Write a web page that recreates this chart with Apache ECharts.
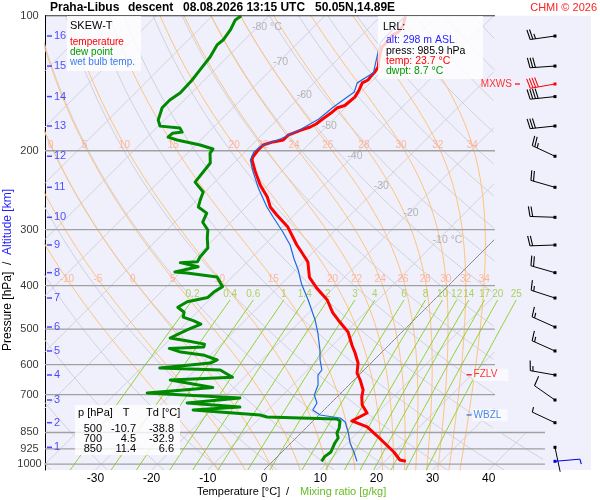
<!DOCTYPE html>
<html>
<head>
<meta charset="utf-8">
<script src="https://cdn.jsdelivr.net/npm/echarts@6.0.0/dist/echarts.min.js"></script>
<style>
html, body { margin: 0; padding: 0; background: #fff; }
#chart { width: 600px; height: 500px; }
</style>
</head>
<body>
<div id="chart"></div>
<script>
// sounding: pressure [hPa] and temperature [°C]
var tempP = [100, 104.9, 107.6, 109.2, 110.4, 114.4, 117.4, 123.6, 130.1, 133.5, 135.5, 139.1, 141.2, 146.4, 151.9, 158.6, 160.4, 164.9, 169.5, 174.4, 177.1, 180.0, 184.6, 189.3, 191.2, 194.2, 199.3, 206.6, 209.8, 222.0, 238.5, 253.7, 267.0, 278.3, 295.5, 324.6, 333.1, 354.3, 383.3, 404.9, 430.5, 459.2, 477.1, 507.5, 542.5, 565.4, 595.1, 626.5, 649.3, 683.5, 708.5, 738.1, 769.2, 801.3, 826.3, 866.9, 939.7, 979.1, 985.9];
var tempT = [-55.7, -54.4, -54.1, -54.1, -54.6, -54.3, -54.3, -53.0, -51.4, -51.1, -51.1, -50.9, -51.4, -50.7, -50.2, -50.5, -51.4, -51.6, -52.0, -52.3, -52.8, -53.9, -55.3, -55.3, -56.8, -58.0, -58.0, -57.7, -57.3, -54.8, -51.4, -48.0, -45.7, -43.1, -39.1, -34.2, -32.7, -29.2, -26.2, -23.0, -19.0, -15.8, -13.5, -9.6, -6.6, -4.6, -2.3, -0.7, 1.1, 3.4, 4.4, 5.9, 8.2, 6.9, 10.7, 14.2, 19.9, 22.4, 23.7];

var dewP = [100, 102.2, 107.6, 113.3, 116.2, 123.6, 132.2, 139.1, 148.6, 154.2, 160.4, 170.9, 176.3, 178.1, 181.8, 182.8, 186.6, 189.3, 194.2, 198.3, 202.5, 213.0, 235.0, 247.2, 257.6, 267.0, 275.6, 288.8, 300.6, 313.0, 329.7, 345.3, 353.6, 355.4, 362.9, 372.9, 374.7, 382.5, 394.2, 402.0, 413.3, 424.9, 434.5, 447.0, 458.4, 470.0, 479.5, 487.2, 502.2, 523.3, 531.5, 540.0, 548.1, 552.0, 562.6, 572.0, 585.9, 595.1, 610.5, 616.8, 640.4, 649.3, 674.9, 683.5, 694.0, 712.3, 730.6, 746.0, 757.4, 777.2, 785.3, 789.2, 793.1, 801.3, 809.0, 830.8, 852.6, 874.4, 897.2, 939.7, 962.2, 985.9];
var dewT = [-84.9, -85.2, -84.3, -83.8, -84.0, -83.1, -82.6, -82.2, -82.0, -82.6, -82.6, -81.1, -79.7, -75.8, -74.7, -76.2, -76.3, -74.2, -69.2, -66.2, -66.0, -64.2, -63.5, -60.3, -59.4, -58.5, -55.9, -55.0, -52.7, -51.4, -49.5, -49.3, -48.9, -51.8, -47.9, -51.1, -48.8, -42.7, -41.1, -40.0, -40.6, -40.7, -43.6, -44.3, -42.3, -41.6, -39.0, -37.2, -38.6, -40.2, -36.5, -33.0, -32.6, -38.5, -35.8, -31.0, -27.9, -28.6, -36.7, -25.6, -22.1, -32.7, -23.8, -28.6, -34.5, -17.1, -25.6, -15.5, -23.3, -10.5, -8.9, -2.8, 3.9, 4.8, 4.8, 5.9, 6.4, 7.5, 7.8, 8.7, 8.4, 8.7];

var wetP = [100, 115.0, 125.5, 134.1, 141.2, 148.0, 160.4, 170.0, 179.1, 187.9, 195.2, 201.4, 209.8, 222.0, 242.2, 267.0, 281.2, 303.7, 324.6, 348.8, 369.1, 395.9, 430.5, 477.1, 510.0, 556.6, 585.9, 616.8, 633.0, 666.3, 701.3, 730.6, 757.4, 777.2, 789.2, 805.5, 847.9, 897.2, 939.7, 985.9];
var wetT = [-55.7, -55.3, -53.0, -51.2, -52.3, -51.2, -52.3, -52.7, -54.1, -55.9, -58.2, -58.4, -57.6, -55.2, -51.2, -46.3, -43.4, -39.0, -35.4, -32.2, -29.5, -26.5, -22.4, -17.6, -14.8, -11.4, -9.6, -7.5, -7.3, -5.5, -4.4, -2.5, -2.0, 0.2, 4.3, 5.9, 8.2, 10.5, 12.8, 15.0];

// diagram families
var isobars = [100, 200, 300, 400, 500, 600, 700, 850, 925, 1000];
var isotherms = [-120, -110, -100, -90, -80, -70, -60, -50, -40, -30, -20, -10, 0, 10, 20, 30, 40, 50];
var isothermLabels = [-80, -70, -60, -50, -40, -30, -20, -10];
var isothermLabelP = [106, 127, 150, 176, 206, 240, 275, 316];
var dryAdiabats = [-40, -30, -20, -10, 0, 10, 20, 30, 40, 50, 60, 70, 80, 90, 100, 110, 120, 130, 140, 150, 160, 170, 180];
var moistAdiabats = [-10, -5, 0, 5, 10, 15, 20, 22, 24, 26, 28, 30, 32, 34];
var moistLabelP = [194.2, 386.5];
var mixingRatios = [0.2, 0.4, 0.6, 1, 1.4, 2, 3, 4, 6, 8, 10, 12, 14, 17, 20, 25];

// altitude marks
var altKm = [16, 15, 14, 13, 12, 11, 10, 9, 8, 7, 6, 5, 4, 3, 2, 1];
var altP = [111.0, 129.5, 151.5, 176.2, 205.8, 241.4, 281.6, 324.6, 374.2, 426.2, 494.7, 559.4, 632.9, 719.6, 808.5, 917.4];

// wind barbs
var windP = [111.0, 129.5, 142.0, 151.5, 176.2, 205.8, 241.4, 281.6, 324.6, 374.2, 426.2, 494.7, 559.4, 632.9, 719.6, 808.5, 917.4, 985.9];
var windDir = [262, 266, 260, 264, 264, 295, 286, 272, 268, 286, 288, 294, 294, 280, 305, 295, 168, 85];
var windKt = [25, 30, 40, 40, 30, 25, 20, 20, 20, 20, 15, 15, 15, 15, 10, 5, 2, 5];
var windColor = ['#000', '#000', '#f00', '#000', '#000', '#000', '#000', '#000', '#000', '#000', '#000', '#000', '#000', '#000', '#000', '#000', '#000', '#0000ee'];

var levelNames = ['MXWS', 'FZLV', 'WBZL'];
var levelP = [142.0, 632, 777];

var tableP = [500, 700, 850];
var tableT = [-10.7, 4.5, 11.4];
var tableTd = [-38.8, -32.9, 6.6];

// skew-T geometry
var P_BOTTOM = 1030.8;
var SKEW = 79.8;            // degrees per decade of pressure
var X_MIN = -38.97, X_MAX = 58.19;
var X_EDGE = 41.1, X_EDGE_LOW = 50.0;
var FONT = '"Liberation Sans", Arial, sans-serif';

function sx(t, p) { return t + SKEW * Math.log10(P_BOTTOM / p); }
function edgeAt(p) { return p >= 849 ? X_EDGE_LOW : X_EDGE; }
function pt(t, p) { return [sx(t, p), p]; }

var levels = [];
for (var i = 0; i <= 300; i++) levels.push(P_BOTTOM * Math.pow(100 / P_BOTTOM, i / 300));

function satVap(tc) { return 6.112 * Math.exp(17.67 * tc / (tc + 243.5)); }
function lapse(tk, p) {
  var es = satVap(tk - 273.15);
  var rs = 0.622 * es / (p - es);
  return (287 * tk + 2.5e6 * rs) / (1005 + 2.5e6 * 2.5e6 * rs * 0.622 / (287 * tk * tk));
}
function pseudoAdiabat(tw) {
  var h = 0.004, up = [], down = [], tk, lp, k1, k2;
  tk = tw + 273.15; lp = Math.log(1000);
  while (lp >= Math.log(99)) {
    up.push([tk - 273.15, Math.exp(lp)]);
    k1 = lapse(tk, Math.exp(lp));
    k2 = lapse(tk - h * k1, Math.exp(lp - h));
    tk -= h * (k1 + k2) / 2; lp -= h;
  }
  tk = tw + 273.15; lp = Math.log(1000);
  while (lp <= Math.log(1040)) {
    k1 = lapse(tk, Math.exp(lp));
    k2 = lapse(tk + h * k1, Math.exp(lp + h));
    tk += h * (k1 + k2) / 2; lp += h;
    down.unshift([tk - 273.15, Math.exp(lp)]);
  }
  return down.concat(up);
}
function tAtP(curve, p) {
  for (var i = 0; i < curve.length - 1; i++) {
    var a = curve[i], b = curve[i + 1];
    if (a[1] >= p && b[1] <= p) {
      var f = Math.log(a[1] / p) / Math.log(a[1] / b[1]);
      return a[0] + f * (b[0] - a[0]);
    }
  }
  return null;
}
function dewFromMix(w, p) {
  var a = Math.log(w * p / (622 + w) / 6.112);
  return 243.5 * a / (17.67 - a);
}

// keep only the parts of a curve that are inside the diagram
function clipParts(points) {
  var parts = [], cur = [];
  points.forEach(function (q) {
    if (q[0] <= edgeAt(q[1])) cur.push(q);
    else { if (cur.length > 1) parts.push(cur); cur = []; }
  });
  if (cur.length > 1) parts.push(cur);
  return parts;
}

var series = [];
function addLine(points, color, width, z, noClip) {
  var parts = noClip ? [points] : clipParts(points);
  parts.forEach(function (d) {
    series.push({ type: 'line', data: d, symbol: 'none', silent: true, z: z,
      lineStyle: { color: color, width: width } });
  });
}
function addLabels(items, color, size, extraLabel, z) {
  series.push({
    type: 'scatter', silent: true, symbolSize: 1, z: z || 4,
    itemStyle: { color: 'rgba(0,0,0,0)' },
    data: items.map(function (it) { return { value: it[0], name: it[1] }; }),
    label: Object.assign({ show: true, position: 'inside', formatter: '{b}', color: color,
      fontSize: size, fontFamily: FONT }, extraLabel || {})
  });
}

// isotherms
isotherms.forEach(function (t) {
  addLine(levels.map(function (p) { return pt(t, p); }), t === 0 ? '#8a8a8a' : '#d0d0d8', 1, t === 0 ? 2 : 1);
});
// dry adiabats
dryAdiabats.forEach(function (th) {
  var tk = th + 273.15;
  addLine(levels.map(function (p) { return pt(tk * Math.pow(p / 1000, 0.2857) - 273.15, p); }), '#d0d0d8', 1, 1);
});
// moist adiabats
var moistLab = [];
moistAdiabats.forEach(function (tw) {
  var curve = pseudoAdiabat(tw);
  addLine(curve.map(function (c) { return pt(c[0], c[1]); }), '#ffc178', 1, 1);
  moistLabelP.forEach(function (lp) {
    var t = tAtP(curve, lp);
    if (t === null) return;
    var x = sx(t, lp);
    if (x > X_MIN + 0.8 && x < X_EDGE) moistLab.push([[x, lp], String(tw)]);
  });
});
addLabels(moistLab, '#ffa888', 10);

// mixing ratio lines
var MIX_TOP = 430.5, MIX_LABEL = 417.5;
var mixLab = [];
mixingRatios.forEach(function (w) {
  var pts = [];
  for (var i = 0; i <= 60; i++) {
    var p = P_BOTTOM * Math.pow(MIX_TOP / P_BOTTOM, i / 60);
    pts.push(pt(dewFromMix(w, p), p));
  }
  addLine(pts, '#8fd12a', 1, 1, true);
  mixLab.push([[sx(dewFromMix(w, MIX_TOP), MIX_TOP), MIX_LABEL], String(w)]);
});
addLabels(mixLab, '#99cc33', 10);

// isotherm labels
addLabels(isothermLabels.map(function (t, i) {
  var p = isothermLabelP[i];
  return [pt(t, p), (t === -80 || t === -10) ? t + ' °C' : String(t)];
}), '#a4a4a4', 10.5, { position: 'right', distance: 0, offset: [-6, 0] });

// isobars
isobars.forEach(function (p) {
  series.push({ type: 'line', symbol: 'none', silent: true, z: 3,
    data: [[X_MIN, p], [edgeAt(p), p]],
    lineStyle: { color: p === 100 ? '#000' : '#a0a0a0', width: p === 100 ? 1 : 1.4 } });
});
addLabels(isobars.map(function (p) { return [[X_MIN, p], String(p)]; }), '#000', 11,
  { position: 'left', distance: 15, align: 'center' });

// altitude marks
series.push({
  type: 'scatter', silent: true, z: 6, symbol: 'rect', symbolSize: [5, 1.5],
  itemStyle: { color: '#1f1fff' },
  data: altP.map(function (p, i) { return { value: [-38.17, p], name: String(altKm[i]) }; }),
  label: { show: true, position: 'right', distance: 2, formatter: '{b}', color: '#1f1fff', fontSize: 11, fontFamily: FONT }
});

// sounding
series.push({ type: 'line', symbol: 'none', silent: true, z: 8,
  data: tempP.map(function (p, i) { return pt(tempT[i], p); }),
  lineStyle: { color: '#ff0000', width: 3, join: 'round' } });
series.push({ type: 'line', symbol: 'none', silent: true, z: 9,
  data: wetP.map(function (p, i) { return pt(wetT[i], p); }),
  lineStyle: { color: '#1e6ae0', width: 1.2 } });
series.push({ type: 'line', symbol: 'none', silent: true, z: 8,
  data: dewP.map(function (p, i) { return pt(dewT[i], p); }),
  lineStyle: { color: '#008a00', width: 3, join: 'round' } });

// MXWS / FZLV / WBZL
series.push({
  type: 'scatter', silent: true, z: 7, symbol: 'rect', symbolSize: [5, 1.5],
  data: [
    { value: [45.1, levelP[0]], name: levelNames[0], itemStyle: { color: '#f00' },
      label: { position: 'left', distance: 3, color: '#f00' } },
    { value: [36.5, levelP[1]], name: levelNames[1], itemStyle: { color: '#f00' },
      label: { position: 'right', distance: 1, color: '#f00', backgroundColor: 'rgba(255,255,255,0.85)', padding: [1, 11, 1, 1] } },
    { value: [36.5, levelP[2]], name: levelNames[2], itemStyle: { color: '#1e6ae0' },
      label: { position: 'right', distance: 1, color: '#1e6ae0', backgroundColor: 'rgba(255,255,255,0.85)', padding: [1, 6, 1, 1] } }
  ],
  label: { show: true, formatter: '{b}', fontSize: 10, fontFamily: FONT }
});

// wind barbs
var STATION_X = 51.78;
series.push({
  type: 'custom', silent: true, z: 7,
  data: windP.map(function (p, i) { return [STATION_X, p, windDir[i], windKt[i]]; }),
  renderItem: function (params, api) {
    var s = api.coord([api.value(0), api.value(1)]);
    var a = api.value(2) * Math.PI / 180, kt = api.value(3);
    var col = windColor[params.dataIndex];
    var ux = Math.sin(a), uy = -Math.cos(a), fx = -uy, fy = ux;
    var ex = s[0] + 25 * ux, ey = s[1] + 25 * uy;
    var kids = [
      { type: 'line', shape: { x1: s[0], y1: s[1], x2: ex, y2: ey }, style: { stroke: col, lineWidth: 1 } },
      { type: 'rect', shape: { x: s[0] - 1.5, y: s[1] - 1.5, width: 3, height: 3 }, style: { fill: col } }
    ];
    var full = Math.floor(kt / 10), half = kt % 10 >= 5 ? 1 : 0;
    for (var k = 0; k < full + half; k++) {
      var len = k < full ? 10 : 5;
      var bx = ex - k * 2.7 * ux, by = ey - k * 2.7 * uy;
      kids.push({ type: 'line', shape: { x1: bx, y1: by, x2: bx + len * fx + 0.2 * len * ux, y2: by + len * fy + 0.2 * len * uy },
        style: { stroke: col, lineWidth: 1.1 } });
    }
    return { type: 'group', children: kids };
  }
});

// boxes and titles
function txt(x, y, s, size, color, extra) {
  return { type: 'text', x: x, y: y, z: 101, silent: true,
    style: Object.assign({ text: s, font: size + 'px ' + FONT, fill: color,
      textAlign: 'left', textVerticalAlign: 'middle', align: 'left', verticalAlign: 'middle' }, extra || {}) };
}
function box(x, y, w, h) {
  return { type: 'rect', z: 100, silent: true, shape: { x: x, y: y, width: w, height: h },
    style: { fill: 'rgba(255,255,255,0.8)' } };
}
var graphics = [
  txt(50, 8, 'Praha-Libus', 'bold 12', '#000'),
  txt(128, 8, 'descent', 'bold 12', '#000'),
  txt(183, 8, '08.08.2026 13:15 UTC', 'bold 12', '#000'),
  txt(315, 8, '50.05N,14.89E', 'bold 12', '#000'),
  txt(597, 8, 'CHMI © 2026', 11, '#ff2020', { textAlign: 'right', align: 'right' }),
  txt(197, 492, 'Temperature [°C]', 11, '#000'),
  txt(286, 492, '/', 11, '#000'),
  txt(300, 492, 'Mixing ratio [g/kg]', 11, '#66bb22'),
  { type: 'text', x: 8, y: 270, rotation: Math.PI / 2, z: 101, silent: true,
    style: { text: '{a|Pressure [hPa]}  /  {b|Altitude [km]}', font: '12px ' + FONT, fill: '#000',
      textAlign: 'center', textVerticalAlign: 'middle', align: 'center', verticalAlign: 'middle',
      rich: { a: { fill: '#000', font: '12px ' + FONT }, b: { fill: '#1f1fff', font: '12px ' + FONT } } } },

  box(67, 16, 74, 55),
  txt(70, 26, 'SKEW-T', 11, '#000'),
  txt(70, 42, 'temperature', 10, '#ff0000'),
  txt(70, 52, 'dew point', 10, '#009900'),
  txt(70, 62, 'wet bulb temp.', 10, '#3a7bf0'),

  box(378, 16, 105, 63),
  txt(383, 27, 'LRL:', 10.5, '#000'),
  txt(386, 40, 'alt: 298 m ASL', 10.5, '#1f1fff'),
  txt(386, 51, 'press: 985.9 hPa', 10.5, '#000'),
  txt(386, 61, 'temp: 23.7 °C', 10.5, '#ff0000'),
  txt(386, 71, 'dwpt: 8.7 °C', 10.5, '#009900'),

  box(75, 405, 105, 50),
  txt(78, 413, 'p [hPa]', 11, '#000'),
  txt(126, 413, 'T', 11, '#000', { textAlign: 'center', align: 'center' }),
  txt(146, 413, 'Td [°C]', 11, '#000')
];
tableP.forEach(function (p, i) {
  var y = 429 + i * 10;
  graphics.push(txt(102, y, String(p), 11, '#000', { textAlign: 'right', align: 'right' }));
  graphics.push(txt(136, y, tableT[i].toFixed(1), 11, '#000', { textAlign: 'right', align: 'right' }));
  graphics.push(txt(174, y, tableTd[i].toFixed(1), 11, '#000', { textAlign: 'right', align: 'right' }));
});

var option = {
  animation: false,
  textStyle: { fontFamily: FONT },
  grid: { left: 45, right: 9, top: 15.7, bottom: 30, show: true, backgroundColor: '#f0f0fc', borderWidth: 0 },
  xAxis: {
    type: 'value', min: X_MIN, max: X_MAX, splitNumber: 10,
    axisLine: { show: false, onZero: false }, axisTick: { show: false }, splitLine: { show: false },
    axisLabel: {
      interval: 0, margin: 3, color: '#000', fontSize: 12, showMinLabel: false, showMaxLabel: false,
      formatter: function (v) { return (Math.abs(v - Math.round(v)) < 1e-6 && v <= 40) ? String(Math.round(v)) : ''; }
    }
  },
  yAxis: {
    type: 'log', logBase: 10, min: 100, max: P_BOTTOM, inverse: true,
    axisLine: { show: true, onZero: false, lineStyle: { color: '#000', width: 1 } },
    axisTick: { show: false }, axisLabel: { show: false }, splitLine: { show: false }
  },
  graphic: graphics,
  series: series
};

var myChart = echarts.init(document.getElementById('chart'));
myChart.setOption(option);
</script>
</body>
</html>
